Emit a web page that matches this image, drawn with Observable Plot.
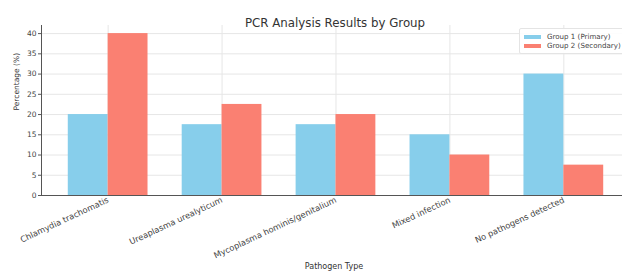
<!DOCTYPE html>
<html>
<head>
<meta charset="utf-8">
<script src="https://cdn.jsdelivr.net/npm/d3@7"></script>
<script src="https://cdn.jsdelivr.net/npm/@observablehq/plot@0.6"></script>
<style>
  body { margin: 0; background: #fff; }
  #wrap { position: relative; width: 622px; height: 275px; font-family: "DejaVu Sans", sans-serif; }
  #legend { position: absolute; left: 519px; top: 28px; width: 110px; padding: 3px 0 3px 4px; border: 1px solid #e4e4e4; border-radius: 2px; background: rgba(255,255,255,0.9); font-size: 7.1px; color: #444; line-height: 9px; }
  #legend .row { display: flex; align-items: center; white-space: nowrap; }
  #legend .sw { width: 17px; height: 4px; margin-right: 6px; }
</style>
</head>
<body>
<div id="wrap"></div>
<script>
const categories = ["Chlamydia trachomatis", "Ureaplasma urealyticum", "Mycoplasma hominis/genitalium", "Mixed infection", "No pathogens detected"];
const group1 = [20, 17.5, 17.5, 15, 30];
const group2 = [40, 22.5, 20, 10, 7.5];
const groups = ["Group 1 (Primary)", "Group 2 (Secondary)"];
const colors = ["#87CEEB", "#FA8072"];
const yTicks = [0, 5, 10, 15, 20, 25, 30, 35, 40];
const title = "PCR Analysis Results by Group";
const xLabel = "Pathogen Type";
const yLabel = "Percentage (%)";

const barWidth = 0.35;
const xDomain = [-0.585, 4.515];
const yDomain = [0, 42];

const rows = categories.flatMap((c, i) => [
  {cat: c, i, g: 0, group: groups[0], value: group1[i]},
  {cat: c, i, g: 1, group: groups[1], value: group2[i]}
]);

const font = "DejaVu Sans";
const plot = Plot.plot({
  width: 622,
  height: 275,
  marginLeft: 41,
  marginRight: 0,
  marginTop: 25,
  marginBottom: 80,
  style: {fontFamily: font, color: "#444", background: "white"},
  x: {type: "linear", domain: xDomain},
  y: {domain: yDomain},
  color: {domain: groups, range: colors},
  marks: [
    Plot.gridY(yTicks, {stroke: "#e6e6e6", strokeOpacity: 1}),
    Plot.gridX(categories.map((_, i) => i), {stroke: "#e6e6e6", strokeOpacity: 1}),
    Plot.rectY(rows, {
      x1: d => d.i + (d.g === 0 ? -barWidth : 0),
      x2: d => d.i + (d.g === 0 ? 0 : barWidth),
      y1: 0,
      y2: "value",
      fill: "group"
    }),
    Plot.ruleY([yDomain[0]], {stroke: "#555", strokeWidth: 1}),
    Plot.ruleX([xDomain[0]], {y1: yDomain[0], y2: yDomain[1], stroke: "#555", strokeWidth: 1}),
    Plot.axisY(yTicks, {tickSize: 3, tickPadding: 2, fontSize: 7.5, stroke: "#555", fill: "#444", label: null}),
    Plot.axisX(categories.map((_, i) => i), {
      tickFormat: i => categories[i],
      tickRotate: -25,
      tickSize: 0,
      tickPadding: 4,
      fontSize: 8.3,
      fill: "#444",
      label: null
    }),
    Plot.text([title], {frameAnchor: "top", dy: -7, dx: 3, fontSize: 11.8, fill: "#333"}),
    Plot.text([xLabel], {frameAnchor: "bottom", dy: 73, dx: 2, fontSize: 8, fill: "#333"}),
    Plot.text([yLabel], {frameAnchor: "left", dx: -25, rotate: -90, fontSize: 7.5, fill: "#333"})
  ]
});

const wrap = document.getElementById("wrap");
wrap.appendChild(plot);
const legend = document.createElement("div");
legend.id = "legend";
groups.forEach((g, k) => {
  const row = document.createElement("div");
  row.className = "row";
  const sw = document.createElement("span");
  sw.className = "sw";
  sw.style.background = colors[k];
  const t = document.createElement("span");
  t.textContent = g;
  row.appendChild(sw);
  row.appendChild(t);
  legend.appendChild(row);
});
wrap.appendChild(legend);
</script>
</body>
</html>
